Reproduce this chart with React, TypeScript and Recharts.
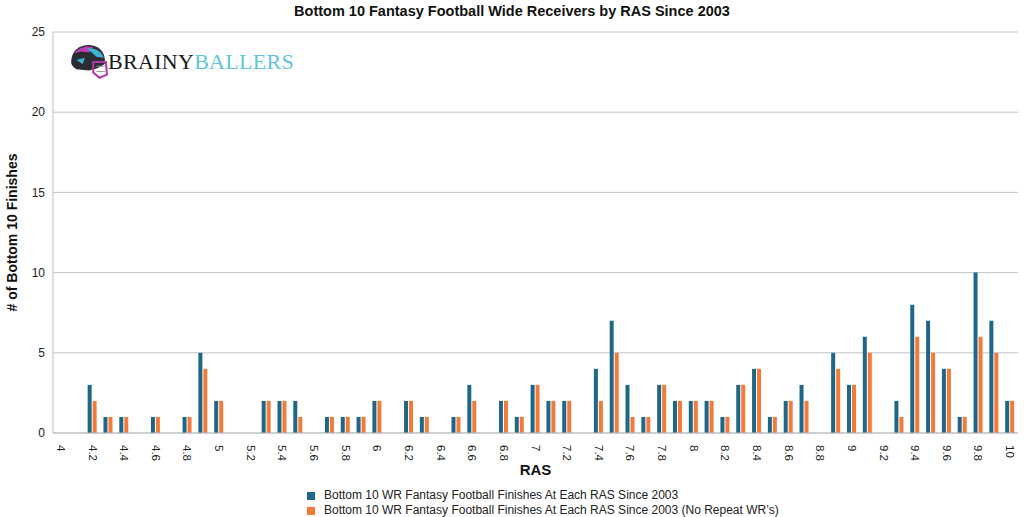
import React from "react";
import { BarChart, Bar, XAxis, YAxis, CartesianGrid } from "recharts";

const RAS = [
  "4", "4.1", "4.2", "4.3", "4.4", "4.5", "4.6", "4.7", "4.8", "4.9",
  "5", "5.1", "5.2", "5.3", "5.4", "5.5", "5.6", "5.7", "5.8", "5.9",
  "6", "6.1", "6.2", "6.3", "6.4", "6.5", "6.6", "6.7", "6.8", "6.9",
  "7", "7.1", "7.2", "7.3", "7.4", "7.5", "7.6", "7.7", "7.8", "7.9",
  "8", "8.1", "8.2", "8.3", "8.4", "8.5", "8.6", "8.7", "8.8", "8.9",
  "9", "9.1", "9.2", "9.3", "9.4", "9.5", "9.6", "9.7", "9.8", "9.9",
  "10",
];

const ALL_FINISHES = [
  0, 0, 3, 1, 1, 0, 1, 0, 1, 5,
  2, 0, 0, 2, 2, 2, 0, 1, 1, 1,
  2, 0, 2, 1, 0, 1, 3, 0, 2, 1,
  3, 2, 2, 0, 4, 7, 3, 1, 3, 2,
  2, 2, 1, 3, 4, 1, 2, 3, 0, 5,
  3, 6, 0, 2, 8, 7, 4, 1, 10, 7,
  2,
];

const NO_REPEAT = [
  0, 0, 2, 1, 1, 0, 1, 0, 1, 4,
  2, 0, 0, 2, 2, 1, 0, 1, 1, 1,
  2, 0, 2, 1, 0, 1, 2, 0, 2, 1,
  3, 2, 2, 0, 2, 5, 1, 1, 3, 2,
  2, 2, 1, 3, 4, 1, 2, 2, 0, 4,
  3, 5, 0, 1, 6, 5, 4, 1, 6, 5,
  2,
];

const Y_TICKS = [0, 5, 10, 15, 20, 25];

const SERIES_NAMES = [
  "Bottom 10 WR Fantasy Football Finishes At Each RAS Since 2003",
  "Bottom 10 WR Fantasy Football Finishes At Each RAS Since 2003 (No Repeat WR\u2019s)",
];

const BLUE = "#1f6689";
const ORANGE = "#f27b3a";
const FONT = "'Liberation Sans', Arial, Helvetica, sans-serif";

const data = RAS.map((r, i) => ({ ras: r, all: ALL_FINISHES[i], noRepeat: NO_REPEAT[i] }));

function RotatedTick({ x, y, payload }: any) {
  return (
    <g transform={`translate(${x},${y})`}>
      <text
        transform="rotate(90)"
        x={4}
        y={0}
        dominantBaseline="central"
        textAnchor="start"
        fontSize={11.5}
        fill="#222"
        fontFamily={FONT}
      >
        {payload.value}
      </text>
    </g>
  );
}

function Logo() {
  return (
    <div style={{ position: "absolute", left: 68, top: 43, display: "flex", alignItems: "center" }}>
      <svg width={40} height={38} viewBox="0 0 38 36">
        <path d="M3 18 C3 6 13 1 22 2 C31 3 36 10 35 20 L28 24 L20 26 L8 25 C5 23 3 21 3 18 Z" fill="#2b2b33" />
        <path d="M6 10 C10 4 18 2 24 4 L20 9 L12 8 Z" fill="#c23fb3" />
        <path d="M18 5 C26 4 32 8 34 14 L27 13 Z" fill="#3cb7cf" />
        <path d="M8 16 L16 14 L14 20 Z" fill="#3cb7cf" />
        <path d="M24 18 L36 18 L37 30 L30 33 L24 28 Z" fill="none" stroke="#b03aa5" strokeWidth={2} />
        <path d="M27 22 L35 22 M27 27 L35 27" stroke="#999" strokeWidth={1} />
      </svg>
      <span
        style={{
          fontFamily: "'Liberation Serif', 'DejaVu Serif', serif",
          fontSize: 22,
          letterSpacing: 0.3,
          marginLeft: 0,
          color: "#1a1a1a",
        }}
      >
        BRAINY<span style={{ color: "#5ec6dc" }}>BALLERS</span>
      </span>
    </div>
  );
}

export default function App() {
  return (
    <div style={{ position: "absolute", left: 0, top: 0, width: 1024, height: 517, background: "#fff", fontFamily: FONT }}>
      <div
        style={{
          position: "absolute",
          top: 3,
          left: 0,
          width: 1024,
          textAlign: "center",
          fontWeight: 700,
          fontSize: 14.5,
          color: "#111",
        }}
      >
        Bottom 10 Fantasy Football Wide Receivers by RAS Since 2003
      </div>
      <BarChart
        width={1024}
        height={517}
        data={data}
        margin={{ top: 32, right: 6, left: 0, bottom: 34 }}
        barGap={1}
        barCategoryGap={0}
      >
        <CartesianGrid vertical={false} stroke="#c4c4c4" />
        <XAxis
          dataKey="ras"
          interval={1}
          tick={<RotatedTick />}
          tickLine={false}
          axisLine={{ stroke: "#bdbdbd" }}
          height={50}
          label={{
            value: "RAS",
            position: "insideBottom",
            offset: 8,
            style: { fontWeight: 700, fontSize: 15, fill: "#111", fontFamily: FONT },
          }}
        />
        <YAxis
          width={53}
          domain={[0, 25]}
          ticks={Y_TICKS}
          tickLine={false}
          axisLine={{ stroke: "#bdbdbd" }}
          tick={{ fontSize: 12, fill: "#222", fontFamily: FONT }}
          label={{
            value: "# of Bottom 10 Finishes",
            angle: -90,
            position: "insideLeft",
            offset: 12,
            style: { textAnchor: "middle", fontWeight: 700, fontSize: 14, fill: "#111", fontFamily: FONT },
          }}
        />
        <Bar dataKey="all" name={SERIES_NAMES[0]} fill={BLUE} barSize={4} isAnimationActive={false} />
        <Bar dataKey="noRepeat" name={SERIES_NAMES[1]} fill={ORANGE} barSize={4} isAnimationActive={false} />
      </BarChart>
      <Logo />
      <div style={{ position: "absolute", left: 307, top: 488, fontSize: 12, color: "#222", lineHeight: "15px" }}>
        {SERIES_NAMES.map((n, i) => (
          <div key={n} style={{ display: "flex", alignItems: "center" }}>
            <span style={{ width: 8, height: 8, background: i === 0 ? BLUE : ORANGE, marginRight: 9, display: "inline-block" }} />
            {n}
          </div>
        ))}
      </div>
    </div>
  );
}
